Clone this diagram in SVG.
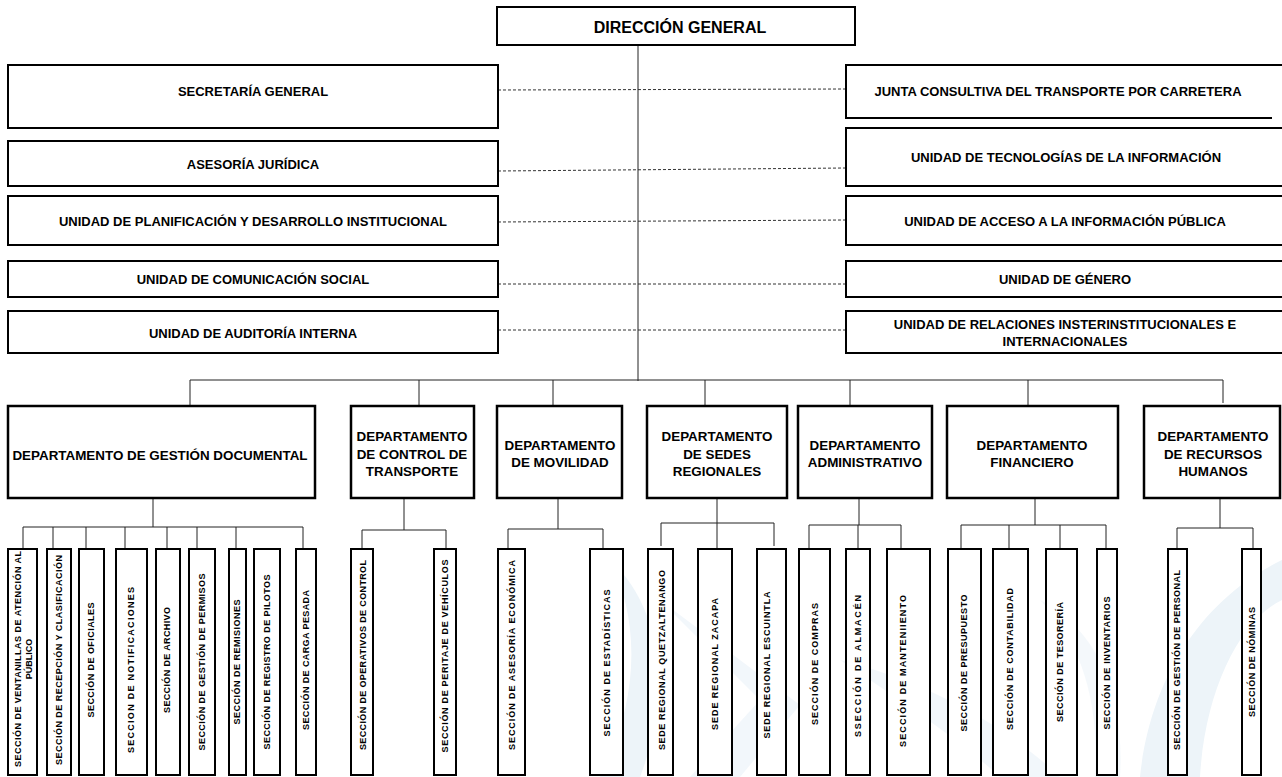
<svg xmlns="http://www.w3.org/2000/svg" width="1282" height="777" viewBox="0 0 1282 777">
  <style>
    .bg { fill: #ffffff; }
    .wm { fill: #edf4f9; }
    .box { fill: #ffffff; stroke: #000000; stroke-width: 2; }
    .dept { fill: #ffffff; stroke: #000000; stroke-width: 2.5; }
    .sec { fill: #ffffff; stroke: #000000; stroke-width: 2; }
    .ln { fill: none; stroke: #222222; stroke-width: 1; }
    .dot { fill: none; stroke: #333333; stroke-width: 1; stroke-dasharray: 3 2; }
    .t { font-family: "Liberation Sans", Arial, sans-serif; font-weight: bold; fill: #000000; text-anchor: middle; }
    .big { font-size: 16px; }
    .mid { font-size: 13px; }
    .dep { font-size: 13.4px; }
    .v { font-size: 9px; dominant-baseline: central; }
  </style>

  <rect class="bg" x="0" y="0" width="1282" height="777"/>

  <!-- faint background emblem -->
  <g id="emblem">
    <path class="wm" d="M 610 560 C 640 620 640 700 600 777 L 640 777 C 670 700 665 610 610 560 Z"/>
    <path class="wm" d="M 660 600 L 760 700 L 690 777 L 740 777 L 800 705 Z" opacity="0.7"/>
    <path class="wm" d="M 840 660 C 900 700 960 740 1000 777 L 1060 777 C 1000 720 920 680 840 660 Z" opacity="0.7"/>
    <path class="wm" d="M 1282 560 C 1200 600 1150 680 1140 777 L 1200 777 C 1205 690 1240 620 1282 600 Z"/>
    <path class="wm" d="M 1040 600 C 1080 640 1100 700 1095 777 L 1120 777 C 1125 700 1100 630 1040 600 Z" opacity="0.6"/>
  </g>

  <!-- connectors -->
  <g id="connectors">
    <!-- staff (dotted) links -->
    <line class="dot" x1="498" y1="90" x2="846" y2="89"/>
    <line class="dot" x1="498" y1="171" x2="846" y2="168"/>
    <line class="dot" x1="498" y1="222" x2="846" y2="220"/>
    <line class="dot" x1="498" y1="284" x2="846" y2="284"/>
    <line class="dot" x1="498" y1="330" x2="846" y2="330"/>

    <!-- main trunk and department bus -->
    <line class="ln" x1="638" y1="45" x2="638" y2="381"/>
    <polyline class="ln" points="190,406 190,380 1223,380 1223,403"/>
    <line class="ln" x1="419" y1="380" x2="419" y2="406"/>
    <line class="ln" x1="553" y1="380" x2="553" y2="406"/>
    <line class="ln" x1="705" y1="380" x2="705" y2="406"/>
    <line class="ln" x1="850" y1="380" x2="850" y2="406"/>
    <line class="ln" x1="1028" y1="380" x2="1028" y2="406"/>

    <!-- gestión documental -->
    <line class="ln" x1="153" y1="498" x2="153" y2="527"/>
    <polyline class="ln" points="23,549 23,527 303,527 303,549"/>
    <line class="ln" x1="53" y1="527" x2="53" y2="549"/>
    <line class="ln" x1="86" y1="527" x2="86" y2="549"/>
    <line class="ln" x1="125" y1="527" x2="125" y2="549"/>
    <line class="ln" x1="167" y1="527" x2="167" y2="549"/>
    <line class="ln" x1="197" y1="527" x2="197" y2="549"/>
    <line class="ln" x1="236" y1="527" x2="236" y2="549"/>

    <!-- control de transporte -->
    <line class="ln" x1="404" y1="498" x2="404" y2="530"/>
    <polyline class="ln" points="362,549 362,530 446,530 446,549"/>

    <!-- movilidad -->
    <line class="ln" x1="558" y1="498" x2="558" y2="529"/>
    <polyline class="ln" points="508,549 508,529 603,529 603,549"/>

    <!-- sedes regionales -->
    <line class="ln" x1="717" y1="498" x2="717" y2="549"/>
    <polyline class="ln" points="661,546 661,523 774,523 774,546"/>

    <!-- administrativo -->
    <line class="ln" x1="859" y1="498" x2="859" y2="525"/>
    <polyline class="ln" points="809,549 809,525 901,525 901,549"/>
    <line class="ln" x1="858" y1="525" x2="858" y2="549"/>

    <!-- financiero -->
    <line class="ln" x1="1035" y1="498" x2="1035" y2="525"/>
    <polyline class="ln" points="961,549 961,525 1106,525 1106,549"/>
    <line class="ln" x1="1009" y1="525" x2="1009" y2="549"/>
    <line class="ln" x1="1060" y1="525" x2="1060" y2="549"/>

    <!-- recursos humanos -->
    <line class="ln" x1="1220" y1="498" x2="1220" y2="528"/>
    <polyline class="ln" points="1177,549 1177,528 1253,528 1253,549"/>
  </g>

  <!-- top -->
  <g id="direccion-general">
    <rect class="box" x="497" y="7" width="358" height="38"/>
    <text class="t big" x="680" y="33">DIRECCIÓN GENERAL</text>
  </g>

  <!-- staff units, left -->
  <g id="secretaria-general">
    <rect class="box" x="8" y="65" width="490" height="63"/>
    <text class="t mid" x="253" y="96">SECRETARÍA GENERAL</text>
  </g>
  <g id="asesoria-juridica">
    <rect class="box" x="8" y="141" width="490" height="45"/>
    <text class="t mid" x="253" y="169">ASESORÍA JURÍDICA</text>
  </g>
  <g id="planificacion">
    <rect class="box" x="8" y="196" width="490" height="49"/>
    <text class="t mid" x="253" y="226">UNIDAD DE PLANIFICACIÓN Y DESARROLLO INSTITUCIONAL</text>
  </g>
  <g id="comunicacion-social">
    <rect class="box" x="8" y="261" width="490" height="36"/>
    <text class="t mid" x="253" y="284">UNIDAD DE COMUNICACIÓN SOCIAL</text>
  </g>
  <g id="auditoria-interna">
    <rect class="box" x="8" y="311" width="490" height="42"/>
    <text class="t mid" x="253" y="338">UNIDAD DE AUDITORÍA INTERNA</text>
  </g>

  <!-- staff units, right -->
  <g id="junta-consultiva">
    <path class="box" d="M 1290 65 L 846 65 L 846 118 L 1272 118"/>
    <text class="t mid" x="1058" y="96">JUNTA CONSULTIVA DEL TRANSPORTE POR CARRETERA</text>
  </g>
  <g id="tecnologias">
    <rect class="box" x="846" y="128" width="444" height="58"/>
    <text class="t mid" x="1066" y="162">UNIDAD DE TECNOLOGÍAS DE LA INFORMACIÓN</text>
  </g>
  <g id="acceso-informacion">
    <rect class="box" x="846" y="196" width="444" height="49"/>
    <text class="t mid" x="1065" y="226">UNIDAD DE ACCESO A LA INFORMACIÓN PÚBLICA</text>
  </g>
  <g id="genero">
    <rect class="box" x="846" y="261" width="444" height="36"/>
    <text class="t mid" x="1065" y="284">UNIDAD DE GÉNERO</text>
  </g>
  <g id="relaciones">
    <rect class="box" x="846" y="311" width="444" height="42"/>
    <text class="t mid" x="1065" y="329">UNIDAD DE RELACIONES INSTERINSTITUCIONALES E</text>
    <text class="t mid" x="1065" y="346">INTERNACIONALES</text>
  </g>

  <!-- departments -->
  <g id="dep-gestion-documental">
    <rect class="dept" x="8" y="406" width="307" height="92"/>
    <text class="t dep" x="160" y="460">DEPARTAMENTO DE GESTIÓN DOCUMENTAL</text>
  </g>
  <g id="dep-control-transporte">
    <rect class="dept" x="351" y="406" width="123" height="92"/>
    <text class="t dep" x="412" y="441">DEPARTAMENTO</text>
    <text class="t dep" x="412" y="459">DE CONTROL DE</text>
    <text class="t dep" x="412" y="476">TRANSPORTE</text>
  </g>
  <g id="dep-movilidad">
    <rect class="dept" x="497" y="406" width="125" height="92"/>
    <text class="t dep" x="560" y="450">DEPARTAMENTO</text>
    <text class="t dep" x="560" y="467">DE MOVILIDAD</text>
  </g>
  <g id="dep-sedes-regionales">
    <rect class="dept" x="647" y="406" width="140" height="92"/>
    <text class="t dep" x="717" y="441">DEPARTAMENTO</text>
    <text class="t dep" x="717" y="459">DE SEDES</text>
    <text class="t dep" x="717" y="476">REGIONALES</text>
  </g>
  <g id="dep-administrativo">
    <rect class="dept" x="798" y="406" width="134" height="92"/>
    <text class="t dep" x="865" y="450">DEPARTAMENTO</text>
    <text class="t dep" x="865" y="467">ADMINISTRATIVO</text>
  </g>
  <g id="dep-financiero">
    <rect class="dept" x="947" y="406" width="171" height="92"/>
    <text class="t dep" x="1032" y="450">DEPARTAMENTO</text>
    <text class="t dep" x="1032" y="467">FINANCIERO</text>
  </g>
  <g id="dep-recursos-humanos">
    <rect class="dept" x="1144" y="406" width="136" height="92"/>
    <text class="t dep" x="1213" y="441">DEPARTAMENTO</text>
    <text class="t dep" x="1213" y="459">DE RECURSOS</text>
    <text class="t dep" x="1213" y="476">HUMANOS</text>
  </g>

  <!-- sections (vertical labels) -->
  <g id="sec-ventanillas">
    <rect class="sec" x="8" y="549" width="29" height="226"/>
    <text class="t v" transform="translate(18,659) rotate(-90)" textLength="216" lengthAdjust="spacing">SECCIÓN DE VENTANILLAS DE ATENCIÓN AL</text>
    <text class="t v" transform="translate(29,659) rotate(-90)">PÚBLICO</text>
  </g>
  <g id="sec-recepcion">
    <rect class="sec" x="47" y="549" width="24" height="226"/>
    <text class="t v" transform="translate(59,660) rotate(-90)" textLength="210" lengthAdjust="spacing">SECCIÓN DE RECEPCIÓN Y CLASIFICACIÓN</text>
  </g>
  <g id="sec-oficiales">
    <rect class="sec" x="79" y="549" width="25" height="226"/>
    <text class="t v" transform="translate(91,660) rotate(-90)" textLength="115" lengthAdjust="spacing">SECCIÓN DE OFICIALES</text>
  </g>
  <g id="sec-notificaciones">
    <rect class="sec" x="116" y="549" width="31" height="226"/>
    <text class="t v" transform="translate(131,670) rotate(-90)" textLength="166" lengthAdjust="spacing">SECCION DE NOTIFICACIONES</text>
  </g>
  <g id="sec-archivo">
    <rect class="sec" x="156" y="549" width="24" height="226"/>
    <text class="t v" transform="translate(167,660) rotate(-90)" textLength="106" lengthAdjust="spacing">SECCIÓN DE ARCHIVO</text>
  </g>
  <g id="sec-permisos">
    <rect class="sec" x="189" y="549" width="26" height="226"/>
    <text class="t v" transform="translate(202,662) rotate(-90)" textLength="177" lengthAdjust="spacing">SECCIÓN DE GESTIÓN DE PERMISOS</text>
  </g>
  <g id="sec-remisiones">
    <rect class="sec" x="229" y="549" width="17" height="226"/>
    <text class="t v" transform="translate(237,662) rotate(-90)" textLength="125" lengthAdjust="spacing">SECCIÓN DE REMISIONES</text>
  </g>
  <g id="sec-pilotos">
    <rect class="sec" x="254" y="549" width="26" height="226"/>
    <text class="t v" transform="translate(267,662) rotate(-90)" textLength="175" lengthAdjust="spacing">SECCIÓN DE REGISTRO DE PILOTOS</text>
  </g>
  <g id="sec-carga-pesada">
    <rect class="sec" x="296" y="549" width="20" height="226"/>
    <text class="t v" transform="translate(306,660) rotate(-90)" textLength="140" lengthAdjust="spacing">SECCIÓN DE CARGA PESADA</text>
  </g>

  <g id="sec-operativos">
    <rect class="sec" x="351" y="549" width="22" height="226"/>
    <text class="t v" transform="translate(363,655) rotate(-90)" textLength="190" lengthAdjust="spacing">SECCIÓN DE OPERATIVOS DE CONTROL</text>
  </g>
  <g id="sec-peritaje">
    <rect class="sec" x="434" y="549" width="22" height="226"/>
    <text class="t v" transform="translate(445,656) rotate(-90)" textLength="193" lengthAdjust="spacing">SECCIÓN DE PERITAJE DE VEHÍCULOS</text>
  </g>

  <g id="sec-asesoria-economica">
    <rect class="sec" x="498" y="549" width="27" height="226"/>
    <text class="t v" transform="translate(512,655) rotate(-90)" textLength="190" lengthAdjust="spacing">SECCIÓN DE ASESORÍA ECONÓMICA</text>
  </g>
  <g id="sec-estadisticas">
    <rect class="sec" x="590" y="549" width="33" height="226"/>
    <text class="t v" transform="translate(607,663) rotate(-90)" textLength="147" lengthAdjust="spacing">SECCIÓN DE ESTADÍSTICAS</text>
  </g>

  <g id="sede-quetzaltenango">
    <rect class="sec" x="648" y="549" width="25" height="226"/>
    <text class="t v" transform="translate(662,660) rotate(-90)" textLength="180" lengthAdjust="spacing">SEDE REGIONAL QUETZALTENANGO</text>
  </g>
  <g id="sede-zacapa">
    <rect class="sec" x="698" y="549" width="34" height="226"/>
    <text class="t v" transform="translate(715,664) rotate(-90)" textLength="132" lengthAdjust="spacing">SEDE REGIONAL ZACAPA</text>
  </g>
  <g id="sede-escuintla">
    <rect class="sec" x="757" y="549" width="29" height="226"/>
    <text class="t v" transform="translate(767,665) rotate(-90)" textLength="147" lengthAdjust="spacing">SEDE REGIONAL ESCUINTLA</text>
  </g>

  <g id="sec-compras">
    <rect class="sec" x="799" y="549" width="31" height="226"/>
    <text class="t v" transform="translate(815,664) rotate(-90)" textLength="122" lengthAdjust="spacing">SECCIÓN DE COMPRAS</text>
  </g>
  <g id="sec-almacen">
    <rect class="sec" x="846" y="549" width="24" height="226"/>
    <text class="t v" transform="translate(858,666) rotate(-90)" textLength="142" lengthAdjust="spacing">SSECCIÓN DE ALMACÉN</text>
  </g>
  <g id="sec-mantenimiento">
    <rect class="sec" x="887" y="549" width="43" height="226"/>
    <text class="t v" transform="translate(903,671) rotate(-90)" textLength="152" lengthAdjust="spacing">SECCIÓN DE MANTENIIENTO</text>
  </g>

  <g id="sec-presupuesto">
    <rect class="sec" x="948" y="549" width="33" height="226"/>
    <text class="t v" transform="translate(964,663) rotate(-90)" textLength="137" lengthAdjust="spacing">SECCIÓN DE PRESUPUESTO</text>
  </g>
  <g id="sec-contabilidad">
    <rect class="sec" x="993" y="549" width="35" height="226"/>
    <text class="t v" transform="translate(1010,659) rotate(-90)" textLength="142" lengthAdjust="spacing">SECCIÓN DE CONTABILIDAD</text>
  </g>
  <g id="sec-tesoreria">
    <rect class="sec" x="1046" y="549" width="31" height="226"/>
    <text class="t v" transform="translate(1060,662) rotate(-90)" textLength="120" lengthAdjust="spacing">SECCIÓN DE TESORERÍA</text>
  </g>
  <g id="sec-inventarios">
    <rect class="sec" x="1097" y="549" width="20" height="226"/>
    <text class="t v" transform="translate(1107,663) rotate(-90)" textLength="133" lengthAdjust="spacing">SECCIÓN DE INVENTARIOS</text>
  </g>

  <g id="sec-gestion-personal">
    <rect class="sec" x="1168" y="549" width="19" height="226"/>
    <text class="t v" transform="translate(1177,660) rotate(-90)" textLength="180" lengthAdjust="spacing">SECCIÓN DE GESTIÓN DE PERSONAL</text>
  </g>
  <g id="sec-nominas">
    <rect class="sec" x="1242" y="549" width="19" height="226"/>
    <text class="t v" transform="translate(1252,662) rotate(-90)" textLength="110" lengthAdjust="spacing">SECCIÓN DE NÓMINAS</text>
  </g>
</svg>
